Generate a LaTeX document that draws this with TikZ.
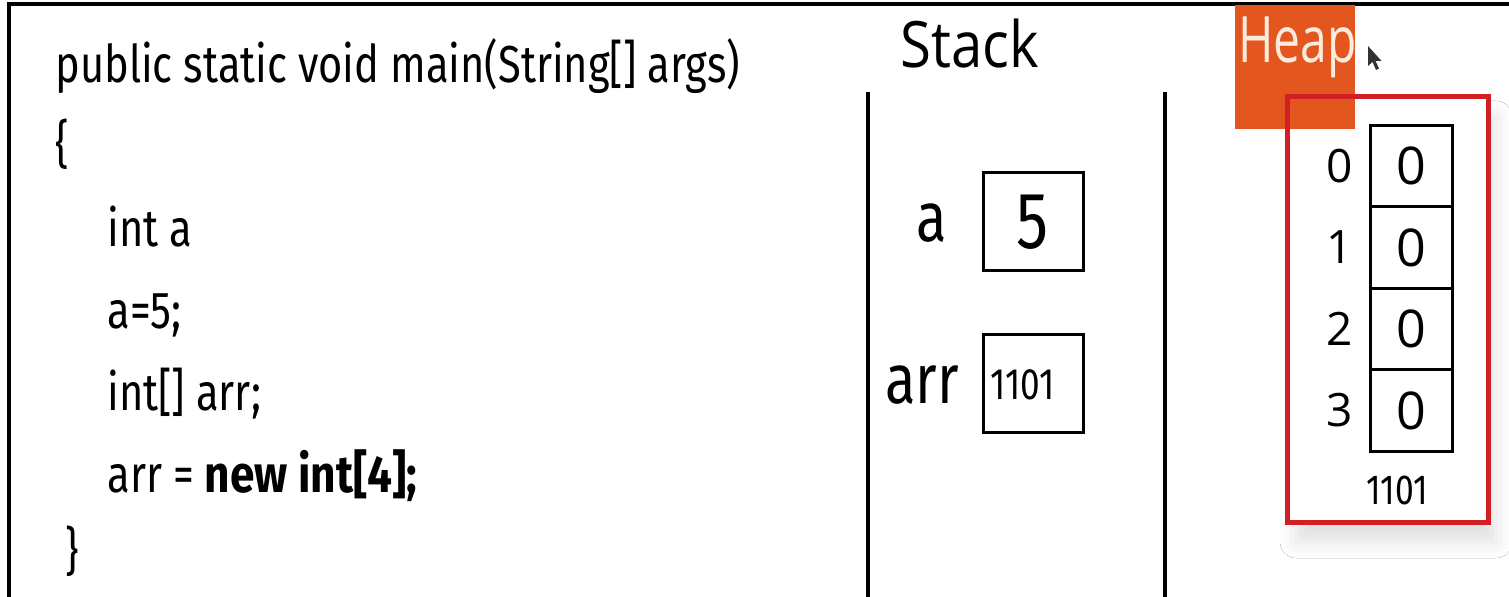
\documentclass[tikz,border=0pt]{standalone}
\usepackage{fontspec}
\usetikzlibrary{shadows.blur}
\setmainfont{Fira Sans}
\newfontfamily\codefont[FakeStretch=0.80, BoldFeatures={FakeStretch=0.85}]{Fira Sans}
\newfontfamily\titlefont[FakeStretch=0.88]{Open Sans}
\newfontfamily\tabfont[FakeStretch=0.75]{Open Sans}
\newfontfamily\digitfont{Open Sans}
\definecolor{heaporange}{HTML}{E4561F}
\definecolor{heaptext}{HTML}{FBEBDC}
\definecolor{framered}{HTML}{D21F26}
\tikzset{
  code/.style={anchor=base west, inner sep=0pt, font=\codefont\fontsize{26}{30}\selectfont},
  title/.style={anchor=base west, inner sep=0pt, font=\titlefont\fontsize{32}{36}\selectfont},
  varlabel/.style={anchor=base west, inner sep=0pt, font=\codefont\fontsize{35}{40}\selectfont},
  slot/.style={draw, line width=1.5pt, minimum width=50pt, minimum height=49pt, inner sep=0pt},
  cell/.style={draw, line width=1.5pt, minimum width=41pt, minimum height=40.75pt, inner sep=0pt,
    font=\digitfont\fontsize{26}{30}\selectfont},
  index/.style={inner sep=0pt, font=\digitfont\fontsize{23}{26}\selectfont},
  divider/.style={line width=2pt},
}
\begin{document}
\begin{tikzpicture}[x=0.5pt, y=-0.5pt]
\useasboundingbox (0,0) rectangle (1509,597);
\fill[white] (0,0) rectangle (1509,597);

% outer frame (top and left edges)
\coordinate (ftl) at (9,4);
\coordinate (ftr) at (1509,4);
\coordinate (fbl) at (9,597);
\draw[line width=2pt] (ftr) -- (ftl) -- (fbl);

% source code
\node[code] (code1) at (55,83) {public static void main(String[] args)};
\node[code] (code2) at (55,163) {\{};
\node[code] (code3) at (107,247) {int a};
\node[code] (code4) at (107,329) {a=5;};
\node[code] (code5) at (107,411) {int[] arr;};
\node[code] (code6) at (107,493) {arr = \textbf{new int[4];}};
\node[code] (code7) at (65,570) {\}};

% stack column
\node[title] (stacktitle) at (900,68) {Stack};
\coordinate (sl1) at (868,92);
\coordinate (sl2) at (868,597);
\coordinate (sr1) at (1165,92);
\coordinate (sr2) at (1165,597);
\draw[divider] (sl1) -- (sl2);
\draw[divider] (sr1) -- (sr2);

\node[slot, font=\codefont\fontsize{40}{44}\selectfont] (boxA) at (1033,222) {5};
\node[varlabel] (lblA) at (916,242) {a};
\node[slot] (boxArr) at (1033,383.5) {};
\node[anchor=west, inner sep=0pt, font=\codefont\fontsize{22}{26}\selectfont] (ref) at (990,385) {1101};
\node[varlabel] (lblArr) at (885,404) {arr};

% heap area: shadowed sheet, title tab, red frame
\node[fill=white, minimum width=100pt, minimum height=212.5pt, inner sep=0pt,
  blur shadow={shadow xshift=4pt, shadow yshift=-10pt, shadow blur radius=8pt, shadow opacity=12}]
  (sheet) at (1388,309.5) {};
\fill[heaporange] (1235,5) rectangle (1355,129);
\node[anchor=base west, inner sep=0pt, text=heaptext, font=\tabfont\fontsize{32}{36}\selectfont]
  (heaptitle) at (1238,63) {Heap};
\draw[framered, line width=2.5pt] (sheet.north west) rectangle (sheet.south east);

% array cells and their indices
\foreach \i/\y in {0/166,1/247.5,2/329,3/410.5}{
  \node[cell] (c\i) at (1411,\y) {0};
  \node[index] (idx\i) at (1340,\y) {\i};
}
\node[inner sep=0pt, font=\codefont\fontsize{21}{24}\selectfont] (addr) at (1397,490) {1101};

% mouse pointer
\fill[black!80] (1368,46) -- (1368,66) -- (1372.5,62) -- (1376,70) -- (1379,68.5) -- (1375.5,61) -- (1381.5,61) -- cycle;
\end{tikzpicture}
\end{document}
